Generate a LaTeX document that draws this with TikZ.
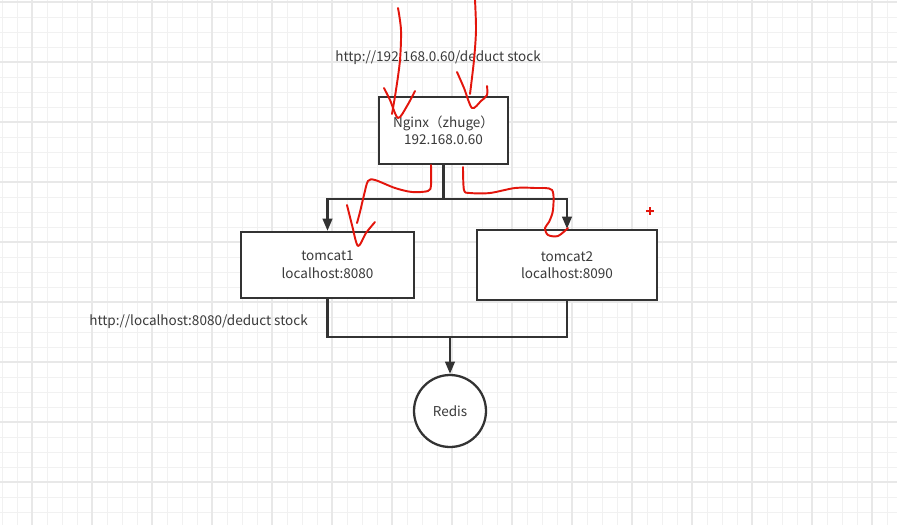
\documentclass[tikz,border=0pt]{standalone}
\usepackage{fontspec}
\setmainfont{Noto Sans CJK SC}
\usetikzlibrary{calc, positioning}
\usetikzlibrary{arrows.meta}

\definecolor{boxline}{HTML}{333333}
\definecolor{textgray}{HTML}{3A3A3A}
\definecolor{gridminor}{HTML}{F1F1F1}
\definecolor{gridmajor}{HTML}{E8E8E8}
\definecolor{pen}{HTML}{E3150C}

\tikzset{
  server/.style={draw=boxline, line width=1.3pt, fill=white, align=center,
    text=textgray, font=\fontsize{7.7pt}{10pt}\selectfont},
  db/.style={server, circle, minimum size=1.44cm, inner sep=0pt},
  wire/.style={draw=boxline, line width=1.3pt},
  arrowwire/.style={wire, -{Triangle[length=7pt, width=5.5pt]}},
  url/.style={text=textgray, font=\fontsize{7.7pt}{10pt}\selectfont,
    anchor=west, inner sep=0pt},
  scribble/.style={draw=pen, line width=1.1pt, line cap=round, line join=round},
}

\begin{document}
\begin{tikzpicture}[x=0.02cm, y=-0.02cm]
\useasboundingbox (0,0) rectangle (897,525);
\fill[white] (0,0) rectangle (897,525);

% grid
\foreach \x in {2,17,...,897}
  \draw[gridminor, line width=0.5pt] (\x,0) -- (\x,525);
\foreach \y in {2,17,...,525}
  \draw[gridminor, line width=0.5pt] (0,\y) -- (897,\y);
\foreach \x in {32,92,...,897}
  \draw[gridmajor, line width=0.7pt] (\x,0) -- (\x,525);
\foreach \y in {2,62,...,525}
  \draw[gridmajor, line width=0.7pt] (0,\y) -- (897,\y);

% servers
\node[server, minimum width=2.58cm, minimum height=1.34cm] (nginx) at (443.5,130.5)
  {Nginx（zhuge）\\192.168.0.60};
\node[server, minimum width=3.46cm, minimum height=1.32cm] (tomcat1) at (327.5,265)
  {tomcat1\\localhost:8080};
\node[server, minimum width=3.6cm, minimum height=1.4cm] (tomcat2) at (567,265)
  {tomcat2\\localhost:8090};
\node[db] (redis) at (450,411) {Redis};

\node[url] (nginxurl) at (335,58) {http://192.168.0.60/deduct~stock};
\node[url] (tomcaturl) at (89,322) {http://localhost:8080/deduct~stock};

\coordinate (fanout) at ($(nginx.south)+(0,34)$);
\coordinate (fanin) at (450,337);

\draw[wire] (nginx.south) -- (fanout);
\draw[arrowwire] (fanout) -| (tomcat1.north);
\draw[arrowwire] (fanout) -| (tomcat2.north);
\draw[wire] (tomcat1.south) |- (fanin);
\draw[wire] (tomcat2.south) |- (fanin);
\draw[arrowwire] (fanin) -- (redis.north);

% hand drawn marks
\draw[scribble] plot[smooth] coordinates {(398,8) (401,30) (400,60) (396,90) (392,114)};
\draw[scribble] plot[smooth] coordinates {(384,88) (390,100) (398,118) (407,106) (415,91)};
\draw[scribble] plot[smooth] coordinates {(475,0) (476,30) (474,60) (470,94)};
\draw[scribble] plot[smooth] coordinates {(457,72) (464,88) (472,108) (481,101) (487,95) (487,86)};
\draw[scribble] plot[smooth] coordinates {(431,165) (431,185) (428,191) (412,192)
  (395,188) (375,180) (368,181) (364,195) (360,212) (357,223)};
\draw[scribble] plot[smooth] coordinates {(347,205) (352,225) (358,246) (366,233) (375,222)};
\draw[scribble] plot[smooth] coordinates {(463,167) (464,190) (470,193) (490,193)
  (515,188) (535,188) (552,190) (553,210) (549,222) (545,228) (548,235) (558,236) (568,228)};
\draw[pen, line width=0.6pt] (646,211) -- (654,211) (650,207) -- (650,215);
\end{tikzpicture}
\end{document}
